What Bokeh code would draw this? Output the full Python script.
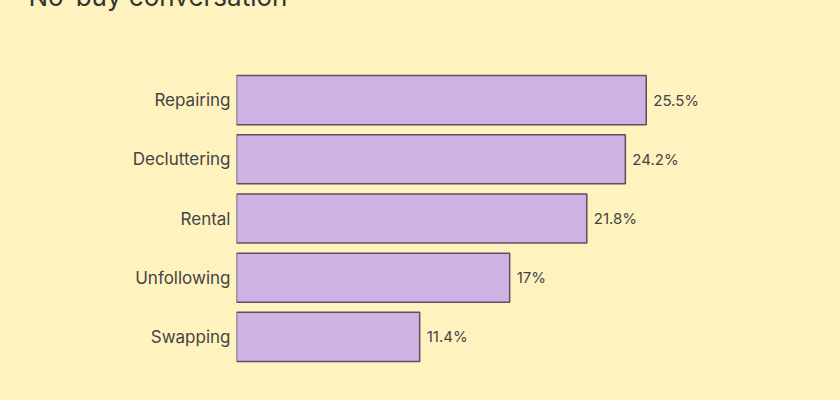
from bokeh.plotting import figure
from bokeh.models import Range1d, FactorRange, ColumnDataSource
from bokeh.core.properties import value
from bokeh.embed import file_html
from bokeh.resources import INLINE

categories = ["Repairing", "Decluttering", "Rental", "Unfollowing", "Swapping"]
values = [25.5, 24.2, 21.8, 17, 11.4]
labels = ["25.5%", "24.2%", "21.8%", "17%", "11.4%"]
title_text = "No-buy conversation"

BG = "#FEF3BE"
FONT = "Inter"
TXT = "#444444"
SHIFT = 90

src = ColumnDataSource(dict(cat=categories, val=values, lab=labels))

p = figure(width=824, height=384 + SHIFT, output_backend="svg", toolbar_location=None,
           y_range=FactorRange(factors=categories[::-1], range_padding=0),
           x_range=Range1d(0, 35.1),
           min_border_left=236, min_border_right=24, min_border_top=70 + SHIFT,
           min_border_bottom=18)
p.styles = {"margin-top": "-%dpx" % SHIFT}
p.background_fill_color = BG
p.border_fill_color = BG
p.outline_line_color = None
p.grid.visible = False
p.xaxis.visible = False

p.title.text = title_text
p.title.text_font = FONT
p.title.text_font_size = "26px"
p.title.text_font_style = "normal"
p.title.text_color = "#333333"
p.title.align = "left"
p.title.offset = -208
p.title.standoff = 117
p.title.vertical_align = "bottom"

p.yaxis.axis_line_color = None
p.yaxis.major_tick_line_color = None
p.yaxis.minor_tick_line_color = None
p.yaxis.major_tick_out = 0
p.yaxis.major_tick_in = 0
p.yaxis.major_label_standoff = 6
p.yaxis.major_label_text_font = FONT
p.yaxis.major_label_text_font_size = "17px"
p.yaxis.major_label_text_color = TXT
p.yaxis.major_label_text_font_style = "normal"

p.hbar(y="cat", right="val", left=0, height=0.83, source=src,
       fill_color="#CDB3E3", line_color="#5a5060", line_width=1.5)

p.text(x="val", y="cat", text="lab", source=src, x_offset=7,
       text_baseline="middle", text_align="left",
       text_font=value(FONT), text_font_size="15px", text_color=TXT)

html = file_html(p, INLINE)
html = html.replace("</head>", "<style>body{background:%s;}</style></head>" % BG, 1)
open("out.html", "w").write(html)
